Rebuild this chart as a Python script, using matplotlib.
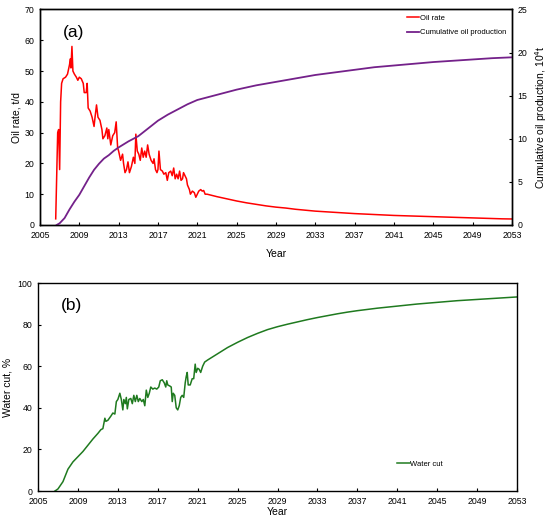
import matplotlib
matplotlib.use("Agg")
import matplotlib.pyplot as plt

plt.rcParams['font.family'] = ['Liberation Sans', 'DejaVu Sans']

# oil rate, t/d (history)
hist_year = [2006.6, 2006.8, 2006.9, 2007.0, 2007.1, 2007.2, 2007.35, 2007.6, 2007.8,
             2008.0, 2008.1, 2008.15, 2008.25, 2008.35, 2008.5, 2008.7, 2008.85,
             2009.0, 2009.2, 2009.4, 2009.5, 2009.7, 2009.8, 2009.9, 2010.1, 2010.3,
             2010.5, 2010.6, 2010.75, 2010.9, 2011.1, 2011.3, 2011.4, 2011.6, 2011.8,
             2011.9, 2012.0, 2012.2, 2012.4, 2012.6, 2012.75, 2012.9, 2013.0, 2013.2,
             2013.4, 2013.5, 2013.65, 2013.8, 2013.95, 2014.1, 2014.3, 2014.5, 2014.65,
             2014.75, 2014.9, 2015.05, 2015.2, 2015.35, 2015.5, 2015.65, 2015.8, 2015.95,
             2016.1, 2016.3, 2016.5, 2016.6, 2016.75, 2016.9, 2017.0, 2017.1, 2017.25,
             2017.45, 2017.6, 2017.8, 2017.95, 2018.1, 2018.3, 2018.45, 2018.6, 2018.75,
             2018.9, 2019.05, 2019.2, 2019.35, 2019.5, 2019.6, 2019.75, 2019.9, 2020.0,
             2020.2, 2020.3, 2020.5, 2020.7, 2020.85, 2021.0, 2021.15, 2021.35, 2021.5,
             2021.65, 2021.8]
hist_rate = [2, 30, 31, 18, 40, 46, 47.5, 48, 49,
             52, 54, 51, 58, 50, 49, 48, 47,
             48, 47.5, 46, 43, 43, 46, 38, 37, 35,
             32, 35, 39, 35, 34, 31, 28, 29, 31.5,
             28, 31, 26, 29, 30, 33.5, 25, 24, 21,
             23, 20, 17, 18, 20.5, 17, 19, 22, 20,
             29.5, 24, 23, 21, 25, 22, 24, 22, 26,
             23, 21, 20, 21.5, 18, 17, 18, 24, 18,
             17.5, 16.5, 17, 14.5, 17, 17.5, 16, 18.5, 15,
             16.5, 15, 17.5, 14.5, 15, 17, 16, 15, 13,
             11.5, 10, 11, 10.5, 9, 10, 11, 11.5, 11,
             11.2, 10]

# oil rate forecast, t/d
fc_year = list(range(2022, 2054))
fc_rate = [10, 9.2, 8.5, 7.8, 7.2, 6.7, 6.2, 5.8, 5.5, 5.1, 4.8, 4.5, 4.3, 4.1, 3.9, 3.7,
           3.55, 3.4, 3.25, 3.1, 3.0, 2.9, 2.8, 2.7, 2.6, 2.5, 2.4, 2.3, 2.2, 2.1, 2.0, 1.95]

# cumulative oil production, 10^4 t
cum_year = [2006.7, 2007, 2007.5, 2008, 2008.5, 2009, 2009.5, 2010, 2010.5, 2011, 2011.5,
            2012, 2012.5, 2013, 2014, 2015, 2016, 2017, 2018, 2019, 2020, 2021, 2022,
            2023, 2024, 2025, 2026, 2027, 2028, 2029, 2031, 2033, 2035, 2037, 2039, 2041,
            2043, 2045, 2047, 2049, 2051, 2053]
cum_prod = [0, 0.2, 0.8, 1.8, 2.7, 3.5, 4.5, 5.5, 6.4, 7.1, 7.7,
            8.1, 8.6, 9.0, 9.7, 10.3, 11.2, 12.1, 12.8, 13.4, 14.0, 14.5, 14.8,
            15.1, 15.4, 15.7, 15.95, 16.2, 16.4, 16.6, 17.0, 17.4, 17.7, 18.0, 18.3, 18.5,
            18.7, 18.9, 19.05, 19.2, 19.35, 19.45]

# water cut, %
wc_year = [2006.7, 2007, 2007.5, 2008, 2008.5, 2009, 2009.5, 2010, 2010.5, 2011, 2011.3,
           2011.5, 2011.7, 2011.8, 2012.0, 2012.3, 2012.5, 2012.7, 2012.85, 2013.0, 2013.2,
           2013.35, 2013.5, 2013.6, 2013.75, 2013.85, 2013.95, 2014.1, 2014.3, 2014.45,
           2014.6, 2014.75, 2014.9, 2015.05, 2015.2, 2015.4, 2015.55, 2015.7, 2015.85,
           2016.0, 2016.15, 2016.3, 2016.5, 2016.7, 2016.9, 2017.1, 2017.25, 2017.45,
           2017.65, 2017.8, 2017.9, 2018.0, 2018.2, 2018.35, 2018.45, 2018.55, 2018.7,
           2018.85, 2019.0, 2019.15, 2019.3, 2019.45, 2019.6, 2019.75, 2019.85, 2019.95,
           2020.05, 2020.25, 2020.45, 2020.6, 2020.75, 2020.85, 2021.0, 2021.15, 2021.3,
           2021.5, 2021.7, 2022, 2023, 2024, 2025, 2026, 2027, 2028, 2029, 2030, 2031,
           2032, 2033, 2034, 2035, 2036, 2037, 2038, 2039, 2040, 2041, 2042, 2043, 2044,
           2045, 2046, 2047, 2048, 2049, 2050, 2051, 2052, 2053]
water_cut = [0, 1, 4.5, 10.5, 14, 16.5, 19, 22, 25, 27.7, 29.5,
             30, 35, 33.5, 34, 36, 37.5, 37, 43, 44, 47,
             44, 39, 44, 42, 45, 39.5, 44, 44.5, 42,
             46, 43, 46, 43, 44.5, 43, 44, 41, 48.5,
             45, 47, 50, 49, 49.5, 49, 50, 53, 53.5,
             52, 50, 53, 51, 50.5, 50, 43, 47, 46,
             40, 39, 41, 45, 46, 45, 52, 55, 57,
             51, 51, 54, 54, 61, 57, 59, 58.5, 57,
             60, 62, 63, 66, 69, 71.5, 73.8, 75.8, 77.6, 79, 80.2, 81.3,
             82.4, 83.4, 84.3, 85.2, 86, 86.7, 87.3, 87.9, 88.4, 88.9, 89.4, 89.9, 90.3,
             90.7, 91.1, 91.5, 91.8, 92.1, 92.4, 92.7, 93.0, 93.3]

xticks = list(range(2005, 2054, 4))

fig = plt.figure(figsize=(5.5, 5.29), dpi=100)

# (a) oil rate + cumulative
ax1 = fig.add_axes([0.0727, 0.5747, 0.858, 0.4074])
ax2 = ax1.twinx()
l1, = ax1.plot(hist_year + fc_year, hist_rate + fc_rate, color='#ff0000', lw=1.1, label='Oil rate')
l2, = ax2.plot(cum_year, cum_prod, color='#74218a', lw=1.3, label='Cumulative oil production')
ax1.set_xlim(2005, 2053)
ax1.set_ylim(0, 70)
ax2.set_ylim(0, 25)
ax1.set_xticks(xticks)
ax1.set_yticks(range(0, 71, 10))
ax2.set_yticks(range(0, 26, 5))
ax1.set_xlabel('Year', fontsize=7.5, labelpad=7)
ax1.set_ylabel('Oil rate, t/d', fontsize=7.5, labelpad=2)
ax2.set_ylabel('Cumulative oil production, 10$^4$t', fontsize=7.5, labelpad=4)
ax1.text(0.048, 0.93, '(a)', transform=ax1.transAxes, fontsize=12.5, va='top')
ax1.legend(handles=[l1, l2], loc='upper right', frameon=False, fontsize=5.5,
           handlelength=1.6, handletextpad=0.1, borderaxespad=0.3, labelspacing=0.9)

# (b) water cut
ax3 = fig.add_axes([0.0691, 0.0718, 0.871, 0.3932])
ax3.plot(wc_year, water_cut, color='#1f7a1f', lw=1.1, label='Water cut')
ax3.set_xlim(2005, 2053)
ax3.set_ylim(0, 100)
ax3.set_xticks(xticks)
ax3.set_yticks(range(0, 101, 20))
ax3.set_xlabel('Year', fontsize=7.5, labelpad=1)
ax3.set_ylabel('Water cut, %', fontsize=7.5, labelpad=4)
ax3.text(0.048, 0.93, '(b)', transform=ax3.transAxes, fontsize=12.5, va='top')
ax3.legend(loc='lower right', bbox_to_anchor=(0.86, 0.08), frameon=False, fontsize=5.5,
           handlelength=1.6, handletextpad=0.1)

for ax in (ax1, ax2, ax3):
    ax.tick_params(direction='in', labelsize=6.3, length=2.5, width=0.8, pad=4)
    for s in ax.spines.values():
        s.set_linewidth(1.0)

fig.savefig('out.png', dpi=100)
